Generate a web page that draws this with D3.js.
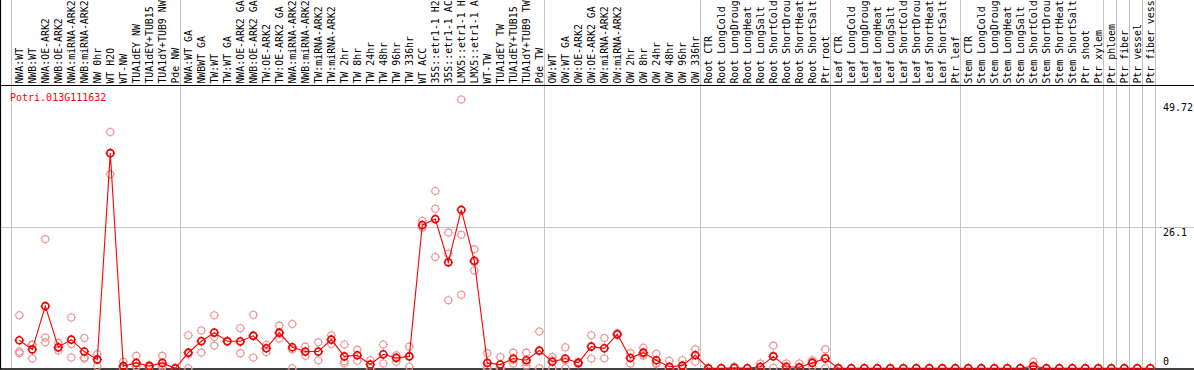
<!DOCTYPE html>
<html><head><meta charset="utf-8">
<script src="https://cdn.jsdelivr.net/npm/d3@7"></script>
<style>
html,body{margin:0;padding:0;background:#fff;overflow:hidden}
svg{display:block}
text{font-family:"DejaVu Sans Mono",monospace;font-size:10px}
</style></head>
<body>
<script>
const title = "Potri.013G111632";
const categories = [
 "NWA:WT","NWB:WT","NWA:OE-ARK2","NWB:OE-ARK2","NWA:miRNA-ARK2","NWB:miRNA-ARK2","NW 0hr","WT H2O","WT-NW","TUA1dEY NW","TUA1dEY+TUB15 NW","TUA1dY+TUB9 NW","Pde NW",
 "NWA:WT GA","NWBWT GA","TW:WT","TW:WT GA","NWA:OE-ARK2 GA","NWB:OE-ARK2 GA","TW:OE-ARK2","TW:OE-ARK2 GA","NWA:miRNA-ARK2 GA","NWB:miRNA-ARK2 GA","TW:miRNA-ARK2","TW:miRNA-ARK2 GA",
 "TW 2hr","TW 8hr","TW 24hr","TW 48hr","TW 96hr","TW 336hr","WT ACC","35S::etr1-1 H2O","35S::etr1-1 ACC","LMX5::etr1-1 H2O","LMX5::etr1-1 ACC","WT-TW","TUA1dEY TW","TUA1dEY+TUB15 TW","TUA1dY+TUB9 TW","Pde TW",
 "OW:WT","OW:WT GA","OW:OE-ARK2","OW:OE-ARK2 GA","OW:miRNA-ARK2","OW:miRNA-ARK2 GA","OW 2hr","OW 8hr","OW 24hr","OW 48hr","OW 96hr","OW 336hr",
 "Root CTR","Root LongCold","Root LongDrought","Root LongHeat","Root LongSalt","Root ShortCold","Root ShortDrought","Root ShortHeat","Root ShortSalt","Ptr root",
 "Leaf CTR","Leaf LongCold","Leaf LongDrought","Leaf LongHeat","Leaf LongSalt","Leaf ShortCold","Leaf ShortDrought","Leaf ShortHeat","Leaf ShortSalt","Ptr leaf",
 "Stem CTR","Stem LongCold","Stem LongDrought","Stem LongHeat","Stem LongSalt","Stem ShortCold","Stem ShortDrought","Stem ShortHeat","Stem ShortSalt","Ptr shoot","Ptr xylem",
 "Ptr phloem","Ptr fiber","Ptr vessel","Ptr fiber vessel"
];
// the header only has room for 14 characters per label
const labelChars = 14;
// indices of first category of each group (separators drawn before these)
const groupStarts = [0,13,41,53,63,73,84,85,86,87,88];
const meanValues = [
 5.2,3.5,11.5,3.9,5.3,3.1,1.6,39.8,0.4,1.0,0.4,1.0,0,
 2.9,5.0,6.6,5.0,5.0,6.0,3.7,6.6,3.9,3.1,3.1,5.3,
 2.2,2.4,0.7,2.6,1.9,2.2,26.5,27.6,19.6,29.3,19.9,1.0,0.7,1.8,1.5,3.3,
 1.2,1.8,1.0,4.0,3.7,6.3,1.9,2.9,1.5,0.3,0.5,2.4,
 0,0,0.1,0,0.3,2.2,0.3,0.2,1.0,1.8,
 0,0,0,0,0,0,0,0,0,0,
 0,0,0,0,0,0.4,0,0,0,0,0,
 0,0,0,0
];
const rep1 = [
 9.8,4.4,23.9,4.7,9.4,5.6,2.6,43.7,1.2,2.3,0.6,2.3,0,
 6.1,7.0,9.8,5.1,7.4,9.9,4.3,7.9,8.2,4.0,4.8,6.1,
 4.4,3.4,1.5,4.4,2.4,4.0,27.3,32.8,25.1,49.72,22.0,2.8,2.1,2.9,2.9,6.8,
 2.1,3.9,1.2,6.1,5.6,6.5,2.8,3.8,2.7,1.4,1.5,3.5,
 0,0,0.3,0,0.9,4.2,0.9,0.9,1.5,3.5,
 0,0,0,0,0,0,0,0,0,0,
 0,0,0,0,0,1.2,0,0,0,0,0,
 0,0,0,0
];
const rep2 = [
 3.1,4.3,5.7,3.7,4.5,2.0,1.7,39.8,0.3,0.4,0.4,0.5,0,
 2.6,5.1,5.8,5.0,4.8,6.1,3.7,6.4,3.5,3.0,3.0,5.3,
 1.3,2.4,0.7,2.5,2.1,2.3,26.2,29.5,21.2,24.7,19.6,0.3,0.1,1.6,1.1,3.1,
 1.5,1.5,1.0,4.1,3.7,6.3,2.0,2.6,1.0,0,0,2.5,
 0,0,0,0,0,2.3,0,0,1.2,2.0,
 0,0,0,0,0,0,0,0,0,0,
 0,0,0,0,0,0,0,0,0,0,0,
 0,0,0,0
];
const rep3 = [
 2.8,1.8,4.8,3.3,2.0,1.8,0.4,35.9,0,0.3,0.2,0.2,0,
 0,2.9,4.2,4.9,2.8,2.0,3.0,5.5,0,2.3,1.5,4.5,
 0.9,1.4,0,0.9,1.2,0.3,26.0,20.6,12.6,13.6,18.1,0,0,0.9,0.5,0,
 0,0,0.8,1.8,1.8,6.1,0.9,2.3,0.8,0,0,1.2,
 0,0,0,0,0,0.1,0,0,0.3,0,
 0,0,0,0,0,0,0,0,0,0,
 0,0,0,0,0,0,0,0,0,0,0,
 0,0,0,0
];
const yTicks = [0, 26.1, 49.72];
const yTickLabels = ["0","26.1","49.72"];

const W = 1194, H = 370;
const headerH = 85.5, plotBottom = 369;
const svg = d3.select("body").append("svg").attr("width", W).attr("height", H);

const x = d3.scaleLinear().domain([0, categories.length]).range([19.3, 19.3 + 13*categories.length]);
const y = d3.scaleLinear().domain([0, 49.72]).range([368.3, 99.5]);

// grid: group separators
svg.append("g").selectAll("line").data(groupStarts).join("line")
  .attr("x1", d => Math.round(x(d) - 8) + 0.5).attr("x2", d => Math.round(x(d) - 8) + 0.5)
  .attr("y1", 0).attr("y2", plotBottom)
  .attr("stroke", "#c4c4c4").attr("stroke-width", 1);

// horizontal gridline (middle tick)
svg.append("g").selectAll("line").data(yTicks.filter(t => t > 0 && t < 49.72)).join("line")
  .attr("x1", 0).attr("x2", W)
  .attr("y1", d => Math.round(y(d)) + 0.5).attr("y2", d => Math.round(y(d)) + 0.5)
  .attr("stroke", "#c4c4c4").attr("stroke-width", 1);

// borders
svg.append("line").attr("x1", 0).attr("x2", W).attr("y1", headerH).attr("y2", headerH).attr("stroke", "#000").attr("stroke-width", 1.2);
svg.append("line").attr("x1", 0).attr("x2", W).attr("y1", plotBottom).attr("y2", plotBottom).attr("stroke", "#000").attr("stroke-width", 1.5);
svg.append("line").attr("x1", 0.5).attr("x2", 0.5).attr("y1", 0).attr("y2", plotBottom).attr("stroke", "#000").attr("stroke-width", 1.2);

// category labels
svg.append("g").selectAll("text").data(categories).join("text")
  .attr("transform", (d, i) => `translate(${x(i) + 3.5},83.6) rotate(-90)`)
  .attr("fill", "#000")
  .style("font-size", "9.9px")
  .text(d => d.slice(0, labelChars).trimEnd());

// title
svg.append("text").attr("x", 10).attr("y", 101).attr("fill", "#ff0000").text(title);

// y labels
svg.append("g").selectAll("text").data(yTicks).join("text")
  .attr("x", 1163)
  .attr("y", (d, i) => Math.max(110.5, Math.min(365, y(d) + 8.5)))
  .attr("fill", "#000")
  .text((d, i) => yTickLabels[i]);

// marker helper
function marker(g, cx, cy, color, sw) {
  g.append("circle").attr("cx", cx).attr("cy", cy).attr("r", 3.5)
    .attr("fill", "none").attr("stroke", color).attr("stroke-width", sw);
  const t = 4.8, s = 3.5;
  [[0,-1],[0,1],[-1,0],[1,0]].forEach(([dx,dy]) => {
    g.append("line").attr("x1", cx + dx*s).attr("y1", cy + dy*s)
      .attr("x2", cx + dx*t).attr("y2", cy + dy*t)
      .attr("stroke", color).attr("stroke-width", 1);
  });
}

// replicates
const repG = svg.append("g");
[rep1, rep2, rep3].forEach(arr => {
  arr.forEach((v, i) => marker(repG, x(i), y(v), "#ec9696", 1.1));
});

// mean line
svg.append("path").datum(meanValues)
  .attr("d", d3.line().x((d, i) => x(i)).y(d => y(d)))
  .attr("fill", "none").attr("stroke", "#ff0000").attr("stroke-width", 1.1);

// mean markers
const mG = svg.append("g");
meanValues.forEach((v, i) => marker(mG, x(i), y(v), "#ee0000", 1.6));
</script>
</body></html>
